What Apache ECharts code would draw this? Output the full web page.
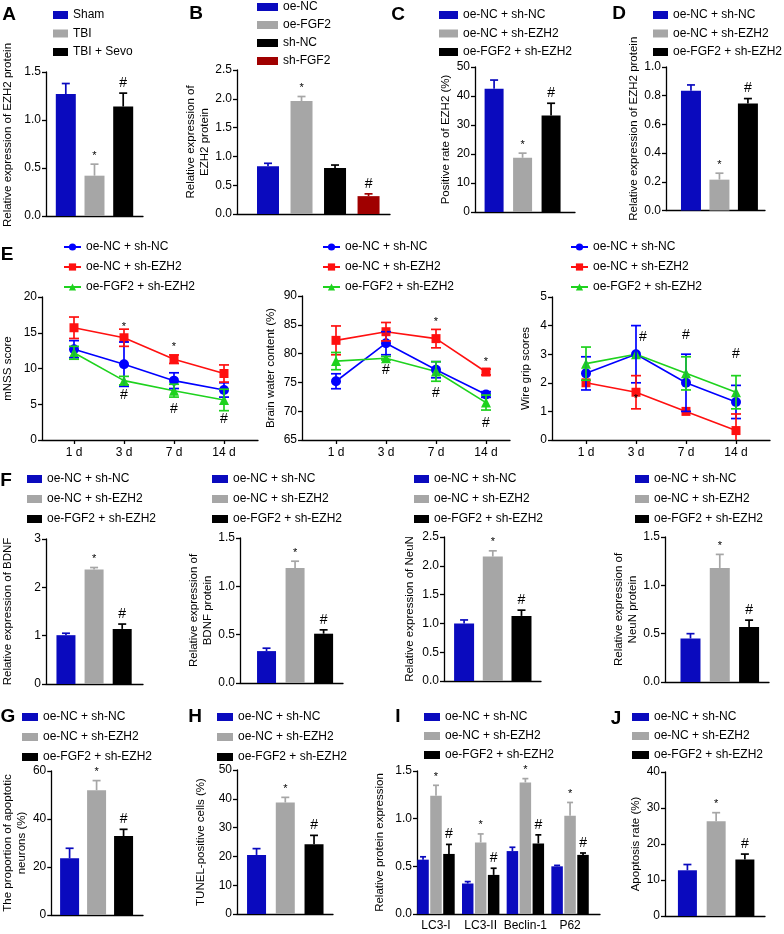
<!DOCTYPE html>
<html><head><meta charset="utf-8">
<script src="https://cdn.jsdelivr.net/npm/echarts@6/dist/echarts.min.js"></script>
<style>html,body{margin:0;padding:0;background:#fff}#c{width:784px;height:934px}</style>
</head><body><div id="c"></div>
<script>
// ---------------- DATA ----------------
const groupsA = ['Sham', 'TBI', 'TBI + Sevo'];
const groupsB = ['oe-NC', 'oe-FGF2', 'sh-NC', 'sh-FGF2'];
const groups3 = ['oe-NC + sh-NC', 'oe-NC + sh-EZH2', 'oe-FGF2 + sh-EZH2'];
const days = ['1 d', '3 d', '7 d', '14 d'];
const iCats = ['LC3-I', 'LC3-II', 'Beclin-1', 'P62'];

const aMean = [1.27, 0.42, 1.14], aErr = [0.11, 0.12, 0.14], aMarks = ['', '*', '#'];
const bMean = [0.83, 1.96, 0.80, 0.31], bErr = [0.05, 0.08, 0.05, 0.04], bMarks = ['', '*', '', '#'];
const cMean = [42.5, 18.7, 33.3], cErr = [3.0, 1.6, 4.2], cMarks = ['', '*', '#'];
const dMean = [0.835, 0.215, 0.745], dErr = [0.04, 0.045, 0.035], dMarks = ['', '*', '#'];

const mnssMean = [[12.7, 10.6, 8.3, 7.0], [15.7, 14.3, 11.3, 9.3], [12.2, 8.3, 6.9, 5.6]];
const mnssErr = [[1.2, 3.1, 1.1, 1.0], [1.5, 1.2, 0.6, 1.2], [0.9, 0.6, 0.9, 1.5]];
const mnssAnnX = [1, 2, 1, 2, 3], mnssAnnY = [15.8, 13.0, 6.3, 4.3, 2.9], mnssAnnT = ['*', '*', '#', '#', '#'];

const bwcMean = [[75.2, 81.8, 77.2, 72.9], [82.3, 83.8, 82.6, 76.8], [78.7, 79.2, 76.9, 71.5]];
const bwcErr = [[1.3, 2.0, 1.4, 0.5], [2.5, 1.6, 1.6, 0.5], [1.5, 0.3, 1.7, 1.3]];
const bwcAnnX = [2, 3, 1, 2, 3], bwcAnnY = [85.5, 78.5, 77.2, 73.2, 67.9], bwcAnnT = ['*', '*', '#', '#', '#'];

const wgMean = [[2.33, 3.0, 2.0, 1.33], [2.0, 1.67, 1.0, 0.33], [2.67, 3.0, 2.33, 1.67]];
const wgErr = [[0.58, 1.0, 1.0, 0.58], [0.0, 0.58, 0.0, 0.58], [0.58, 0.0, 0.58, 0.58]];
const wgAnnX = [1.14, 2, 3, 1], wgAnnY = [3.61, 3.67, 3.0, 1.43], wgAnnT = ['#', '#', '#', '*'];

const f1Mean = [1.01, 2.37, 1.14], f1Err = [0.04, 0.04, 0.10];
const f2Mean = [0.33, 1.19, 0.51], f2Err = [0.03, 0.07, 0.04];
const f3Mean = [1.0, 2.16, 1.13], f3Err = [0.06, 0.10, 0.10];
const f4Mean = [0.45, 1.18, 0.57], f4Err = [0.05, 0.14, 0.07];
const gMean = [23.6, 52.0, 32.9], gErr = [4.2, 4.0, 2.8];
const hMean = [20.5, 38.7, 24.2], hErr = [2.2, 1.8, 3.1];
const iMean = [[0.57, 0.32, 0.66, 0.50], [1.24, 0.75, 1.38, 1.03], [0.63, 0.41, 0.74, 0.62]];
const iErr = [[0.03, 0.02, 0.04, 0.01], [0.11, 0.09, 0.04, 0.14], [0.10, 0.07, 0.09, 0.02]];
const iMarks = ['', '*', '#'];
const jMean = [12.7, 26.3, 15.7], jErr = [1.6, 2.4, 1.5];
const marks3 = ['', '*', '#'];

// ---------------- STYLE ----------------
const FF = '"Liberation Sans", Arial, Helvetica, sans-serif';
const BAR3 = ['#0a0abe', '#a6a6a6', '#000000'];
const BAR4 = ['#0a0abe', '#a6a6a6', '#000000', '#a00000'];
const LC = ['#0000ff', '#ff1010', '#1ed21e'];
const SYM = ['circle', 'rect', 'triangle'];
const SSZ = [10, 9, 10];

const opt = { animation: false, backgroundColor: '#fff', grid: [], xAxis: [], yAxis: [], series: [], legend: [], graphic: [] };
const AXL = { show: true, onZero: false, lineStyle: { color: '#000', width: 1.3 } };

function addAxes(box, x, y) {
  opt.grid.push({ left: box[0], top: box[1], width: box[2], height: box[3] });
  const gi = opt.grid.length - 1;
  opt.xAxis.push(Object.assign({ gridIndex: gi, type: 'value', min: x.min, max: x.max, axisLine: AXL, splitLine: { show: false } }, x.extra));
  opt.yAxis.push({
    gridIndex: gi, type: 'value', min: y.min, max: y.max, interval: y.int, axisLine: AXL, splitLine: { show: false },
    axisTick: { show: true, length: 4, lineStyle: { color: '#000', width: 1.3 } },
    axisLabel: { fontSize: 12, color: '#000', fontFamily: FF, margin: 5, formatter: v => v.toFixed(y.dec) },
    name: y.title, nameLocation: 'middle', nameRotate: 90, nameGap: y.gap,
    nameTextStyle: { fontSize: 11.5, color: '#000', fontFamily: FF, lineHeight: 14, padding: y.pad || 0 }
  });
  return [opt.xAxis.length - 1, opt.yAxis.length - 1];
}

function addLegend(key, names, pos, isBar) {
  const l = {
    data: names.map(n => key + '|' + n), formatter: s => s.split('|')[1], orient: 'vertical',
    left: pos[0], top: pos[1], itemWidth: pos[2], itemHeight: isBar ? 8 : 9, itemGap: pos[3], padding: 0,
    selectedMode: false, textStyle: { fontSize: 12, color: '#000', fontFamily: FF, lineHeight: 12 }
  };
  if (isBar) l.icon = 'rect';
  opt.legend.push(l);
}

function errSeries(xi, yi, xs, means, errs, colors, marks, cap, both, yMin) {
  opt.series.push({
    type: 'custom', xAxisIndex: xi, yAxisIndex: yi, z: 4, silent: true,
    data: means.map((m, i) => [xs[i], m, errs[i]]),
    renderItem: (params, api) => {
      const i = params.dataIndex;
      const x = api.value(0), m = api.value(1), e = api.value(2);
      const col = Array.isArray(colors) ? colors[i] : colors;
      const t = api.coord([x, m + e]);
      const b = api.coord([x, both ? Math.max(m - e, yMin) : m]);
      const st = { stroke: col, lineWidth: 1.7 };
      const ch = [];
      if (e > 0) {
        ch.push({ type: 'line', shape: { x1: t[0], y1: t[1], x2: b[0], y2: b[1] }, style: st });
        ch.push({ type: 'line', shape: { x1: t[0] - cap, y1: t[1], x2: t[0] + cap, y2: t[1] }, style: st });
        if (both && m - e >= yMin) ch.push({ type: 'line', shape: { x1: b[0] - cap, y1: b[1], x2: b[0] + cap, y2: b[1] }, style: st });
      }
      const mk = marks ? marks[i] : '';
      if (mk) ch.push({ type: 'text', x: t[0], y: t[1] - 3, style: { text: mk, fill: '#000', font: (mk === '#' ? '14px ' : '11px ') + FF, textAlign: 'center', textVerticalAlign: 'bottom' } });
      return { type: 'group', children: ch };
    }
  });
}

function barPanel(p) {
  const [xi, yi] = addAxes(p.box, { min: p.xr[0], max: p.xr[1], extra: { axisTick: { show: false }, axisLabel: { show: false } } },
    { min: 0, max: p.y[0], int: p.y[1], dec: p.y[2], title: p.title, gap: p.gap, pad: p.pad });
  const xs = p.mean.map((m, i) => i);
  p.names.forEach((n, i) => {
    opt.series.push({ type: 'bar', name: p.key + '|' + n, xAxisIndex: xi, yAxisIndex: yi, barWidth: p.bw, barGap: '-100%',
      itemStyle: { color: p.colors[i] }, data: [[i, p.mean[i]]], z: 2 });
  });
  errSeries(xi, yi, xs, p.mean, p.err, p.colors, p.marks, p.cap || 4, false, 0);
  addLegend(p.key, p.names, p.leg, true);
}

function linePanel(p) {
  const [xi, yi] = addAxes(p.box, {
    min: p.xr[0], max: p.xr[1], extra: {
      axisTick: { show: true, customValues: [0, 1, 2, 3], length: 4, lineStyle: { color: '#000', width: 1.3 } },
      axisLabel: { customValues: [0, 1, 2, 3], formatter: v => days[Math.round(v)], fontSize: 12, color: '#000', fontFamily: FF, margin: 7 }
    }
  }, { min: p.y[0], max: p.y[1], int: p.y[2], dec: 0, title: p.title, gap: p.gap });
  groups3.forEach((g, k) => {
    opt.series.push({ type: 'line', name: p.key + '|' + g, xAxisIndex: xi, yAxisIndex: yi, data: p.mean[k].map((m, i) => [i, m]),
      symbol: SYM[k], symbolSize: SSZ[k], itemStyle: { color: LC[k] }, lineStyle: { color: LC[k], width: 1.6 }, z: 3 });
    errSeries(xi, yi, [0, 1, 2, 3], p.mean[k], p.err[k], LC[k], null, 5, true, p.y[0]);
  });
  opt.series.push({
    type: 'custom', xAxisIndex: xi, yAxisIndex: yi, z: 5, silent: true,
    data: p.annX.map((x, i) => [x, p.annY[i]]),
    renderItem: (params, api) => {
      const c = api.coord([api.value(0), api.value(1)]);
      const t = p.annT[params.dataIndex];
      return { type: 'text', x: c[0], y: c[1], style: { text: t, fill: '#000', font: (t === '#' ? '14px ' : '11px ') + FF, textAlign: 'center', textVerticalAlign: 'middle' } };
    }
  });
  addLegend(p.key, groups3, p.leg, false);
}

// ---------------- PANELS ----------------
barPanel({ key: 'A', names: groupsA, colors: BAR3, mean: aMean, err: aErr, marks: aMarks, box: [45, 72, 98, 144], xr: [-0.69, 2.69], bw: 20,
  y: [1.5, 0.5, 1], title: 'Relative expression of EZH2 protein', gap: 31, pad: [0, 0, 0, 18], leg: [53, 9, 15, 6.5] });
barPanel({ key: 'B', names: groupsB, colors: BAR4, mean: bMean, err: bErr, marks: bMarks, box: [237, 70, 153, 144], xr: [-0.925, 3.64], bw: 22,
  y: [2.5, 0.5, 1], title: 'Relative expression of\nEZH2 protein', gap: 21, leg: [257, 1, 21, 6] });
barPanel({ key: 'C', names: groups3, colors: BAR3, mean: cMean, err: cErr, marks: cMarks, box: [475, 67, 100, 145], xr: [-0.67, 2.84], bw: 19,
  y: [50, 10, 0], title: 'Positive rate of EZH2 (%)', gap: 18, leg: [439, 9, 19, 6.5] });
barPanel({ key: 'D', names: groups3, colors: BAR3, mean: dMean, err: dErr, marks: dMarks, box: [666, 67, 99, 143.5], xr: [-0.877, 2.6], bw: 20,
  y: [1.0, 0.2, 1], title: 'Relative expression of EZH2 protein', gap: 21, pad: [0, 0, 0, 20], leg: [653, 9, 15, 6.5] });

linePanel({ key: 'E1', mean: mnssMean, err: mnssErr, annX: mnssAnnX, annY: mnssAnnY, annT: mnssAnnT, box: [42, 297, 216, 143], xr: [-0.64, 3.68],
  y: [0, 20, 5], title: 'mNSS score', gap: 27, leg: [63, 241, 17, 8] });
linePanel({ key: 'E2', mean: bwcMean, err: bwcErr, annX: bwcAnnX, annY: bwcAnnY, annT: bwcAnnT, box: [302, 296, 208, 144], xr: [-0.68, 3.48],
  y: [65, 90, 5], title: 'Brain water content (%)', gap: 24, leg: [322, 241, 17, 8] });
linePanel({ key: 'E3', mean: wgMean, err: wgErr, annX: wgAnnX, annY: wgAnnY, annT: wgAnnT, box: [552, 297, 218, 143], xr: [-0.68, 3.68],
  y: [0, 5, 1], title: 'Wire grip scores', gap: 19, leg: [570, 241, 17, 8] });

barPanel({ key: 'F1', names: groups3, colors: BAR3, mean: f1Mean, err: f1Err, marks: marks3, box: [43, 539, 100, 145], xr: [-0.71, 2.74], bw: 19,
  y: [3, 1, 0], title: 'Relative expression of BDNF', gap: 31, leg: [27, 473, 15, 8] });
barPanel({ key: 'F2', names: groups3, colors: BAR3, mean: f2Mean, err: f2Err, marks: marks3, box: [240, 538, 103, 145], xr: [-0.93, 2.68], bw: 19,
  y: [1.5, 0.5, 1], title: 'Relative expression of\nBDNF protein', gap: 23, leg: [212, 473, 16, 8] });
barPanel({ key: 'F3', names: groups3, colors: BAR3, mean: f3Mean, err: f3Err, marks: marks3, box: [444, 537, 97, 144], xr: [-0.7, 2.68], bw: 20,
  y: [2.5, 0.5, 1], title: 'Relative expression of NeuN', gap: 27, leg: [414, 473, 15, 8] });
barPanel({ key: 'F4', names: groups3, colors: BAR3, mean: f4Mean, err: f4Err, marks: marks3, box: [665, 537, 104, 145], xr: [-0.87, 2.68], bw: 20,
  y: [1.5, 0.5, 1], title: 'Relative expression of\nNeuN protein', gap: 21, leg: [635, 473, 14, 8] });

barPanel({ key: 'G', names: groups3, colors: BAR3, mean: gMean, err: gErr, marks: marks3, box: [45, 771, 98, 144], xr: [-0.68, 2.72], bw: 19,
  y: [60, 20, 0], title: 'The proportion of apoptotic\nneurons (%)', gap: 17, leg: [22, 711, 16, 8] });
barPanel({ key: 'H', names: groups3, colors: BAR3, mean: hMean, err: hErr, marks: marks3, box: [237, 770, 96, 144], xr: [-0.68, 2.66], bw: 19,
  y: [50, 10, 0], title: 'TUNEL-positive cells (%)', gap: 29, leg: [217, 711, 16, 8] });

// Panel I (grouped)
(function () {
  const [xi, yi] = addAxes([417, 771, 183, 143], {
    min: -0.425, max: 3.67, extra: {
      axisTick: { show: false },
      axisLabel: { customValues: [0, 1, 2, 3], formatter: v => iCats[Math.round(v)], fontSize: 12, color: '#000', fontFamily: FF, margin: 6 }
    }
  }, { min: 0, max: 1.5, int: 0.5, dec: 1, title: 'Relative protein expression', gap: 30 });
  const off = [-0.29, 0, 0.29];
  groups3.forEach((g, k) => {
    const xs = iCats.map((c, i) => i + off[k]);
    opt.series.push({ type: 'bar', name: 'I|' + g, xAxisIndex: xi, yAxisIndex: yi, barWidth: 11.5, barGap: '-100%',
      itemStyle: { color: BAR3[k] }, data: iMean[k].map((m, i) => [xs[i], m]), z: 2 });
    errSeries(xi, yi, xs, iMean[k], iErr[k], BAR3[k], iCats.map(() => iMarks[k]), 3, false, 0);
  });
  addLegend('I', groups3, [424, 711, 16, 7], true);
})();

barPanel({ key: 'J', names: groups3, colors: BAR3, mean: jMean, err: jErr, marks: marks3, box: [665, 772, 100, 144], xr: [-0.78, 2.7], bw: 19,
  y: [40, 10, 0], title: 'Apoptosis rate (%)', gap: 21, leg: [632, 711, 17, 7] });

// Panel letters
const letters = [['A', 9, 15], ['B', 196, 14], ['C', 398, 15], ['D', 619, 14], ['E', 7, 255], ['F', 6, 481],
  ['G', 8, 717], ['H', 195, 717], ['I', 398, 717], ['J', 616, 719]];
letters.forEach(l => opt.graphic.push({ type: 'text', x: l[1], y: l[2], silent: true,
  style: { text: l[0], font: 'bold 19px ' + FF, fill: '#000', textAlign: 'center', textVerticalAlign: 'middle' } }));

const chart = echarts.init(document.getElementById('c'), null, { renderer: 'canvas' });
chart.setOption(opt);
</script>
</body></html>
